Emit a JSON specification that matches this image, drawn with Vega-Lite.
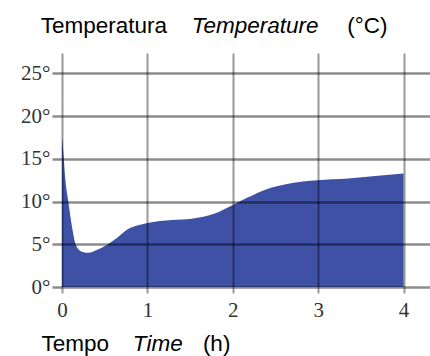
{
  "$schema": "https://vega.github.io/schema/vega-lite/v6.json",
  "width": 368,
  "height": 234,
  "autosize": "none",
  "padding": {"left": 62, "top": 53, "right": 0, "bottom": 69},
  "background": "white",
  "config": {"view": {"stroke": null}},
  "datasets": {
    "temp": [
      {"t": 0, "v": 17.6},
      {"t": 0.016, "v": 15.7},
      {"t": 0.04, "v": 12.5},
      {"t": 0.074, "v": 10},
      {"t": 0.11, "v": 7.5},
      {"t": 0.16, "v": 5},
      {"t": 0.22, "v": 4.2},
      {"t": 0.31, "v": 4.0},
      {"t": 0.4, "v": 4.3},
      {"t": 0.52, "v": 4.9},
      {"t": 0.65, "v": 5.8},
      {"t": 0.76, "v": 6.7},
      {"t": 0.88, "v": 7.2},
      {"t": 1.0, "v": 7.5},
      {"t": 1.29, "v": 7.85},
      {"t": 1.52, "v": 8.0},
      {"t": 1.79, "v": 8.6},
      {"t": 2.0, "v": 9.6},
      {"t": 2.18, "v": 10.5},
      {"t": 2.38, "v": 11.4},
      {"t": 2.65, "v": 12.1},
      {"t": 2.99, "v": 12.5},
      {"t": 3.35, "v": 12.7},
      {"t": 3.67, "v": 13.0},
      {"t": 4.0, "v": 13.3}
    ],
    "normalText": [
      {"label": "Temperatura", "t": -0.25, "v": 29.7},
      {"label": "(°C)", "t": 3.34, "v": 29.7},
      {"label": "Tempo", "t": -0.24, "v": -7.5},
      {"label": "(h)", "t": 1.65, "v": -7.5}
    ],
    "italicText": [
      {"label": "Temperature", "t": 1.52, "v": 29.7},
      {"label": "Time", "t": 0.83, "v": -7.5}
    ]
  },
  "layer": [
    {
      "data": {"name": "temp"},
      "mark": {"type": "area", "color": "#3F51A5", "interpolate": "monotone"},
      "encoding": {
        "x": {
          "field": "t", "type": "quantitative",
          "scale": {"domain": [0, 4.31], "nice": false, "zero": false},
          "axis": {
            "values": [0, 1, 2, 3, 4],
            "format": "d",
            "title": null,
            "domain": false,
            "grid": true,
            "gridColor": "black",
            "gridOpacity": 0.4,
            "gridWidth": 2,
            "tickColor": "black",
            "tickOpacity": 0.4,
            "tickWidth": 2,
            "tickSize": 6,
            "labelFlush": false,
            "labelFont": "Liberation Serif",
            "labelFontSize": 21,
            "labelColor": "#333333",
            "labelPadding": 6,
            "zindex": 1
          }
        },
        "y": {
          "field": "v", "type": "quantitative",
          "scale": {"domain": [0, 27.4], "nice": false},
          "axis": {
            "values": [0, 2.5, 5, 7.5, 10, 12.5, 15, 17.5, 20, 22.5, 25],
            "labelExpr": "datum.value % 5 == 0 ? datum.value + '°' : ''",
            "title": null,
            "domain": false,
            "grid": true,
            "gridColor": "black",
            "gridOpacity": 0.45,
            "gridWidth": 2.5,
            "tickColor": "black",
            "tickOpacity": 0.45,
            "tickWidth": 2.5,
            "tickSize": 10,
            "labelFlush": false,
            "labelFont": "Liberation Serif",
            "labelFontSize": 21,
            "labelColor": "#333333",
            "labelPadding": 2,
            "zindex": 1
          }
        }
      }
    },
    {
      "data": {"name": "normalText"},
      "mark": {"type": "text", "align": "left", "baseline": "alphabetic", "font": "Liberation Sans", "fontSize": 22.5, "color": "black"},
      "encoding": {
        "x": {"field": "t", "type": "quantitative"},
        "y": {"field": "v", "type": "quantitative"},
        "text": {"field": "label"}
      }
    },
    {
      "data": {"name": "italicText"},
      "mark": {"type": "text", "align": "left", "baseline": "alphabetic", "font": "Liberation Sans", "fontSize": 22.5, "fontStyle": "italic", "color": "black"},
      "encoding": {
        "x": {"field": "t", "type": "quantitative"},
        "y": {"field": "v", "type": "quantitative"},
        "text": {"field": "label"}
      }
    }
  ]
}
